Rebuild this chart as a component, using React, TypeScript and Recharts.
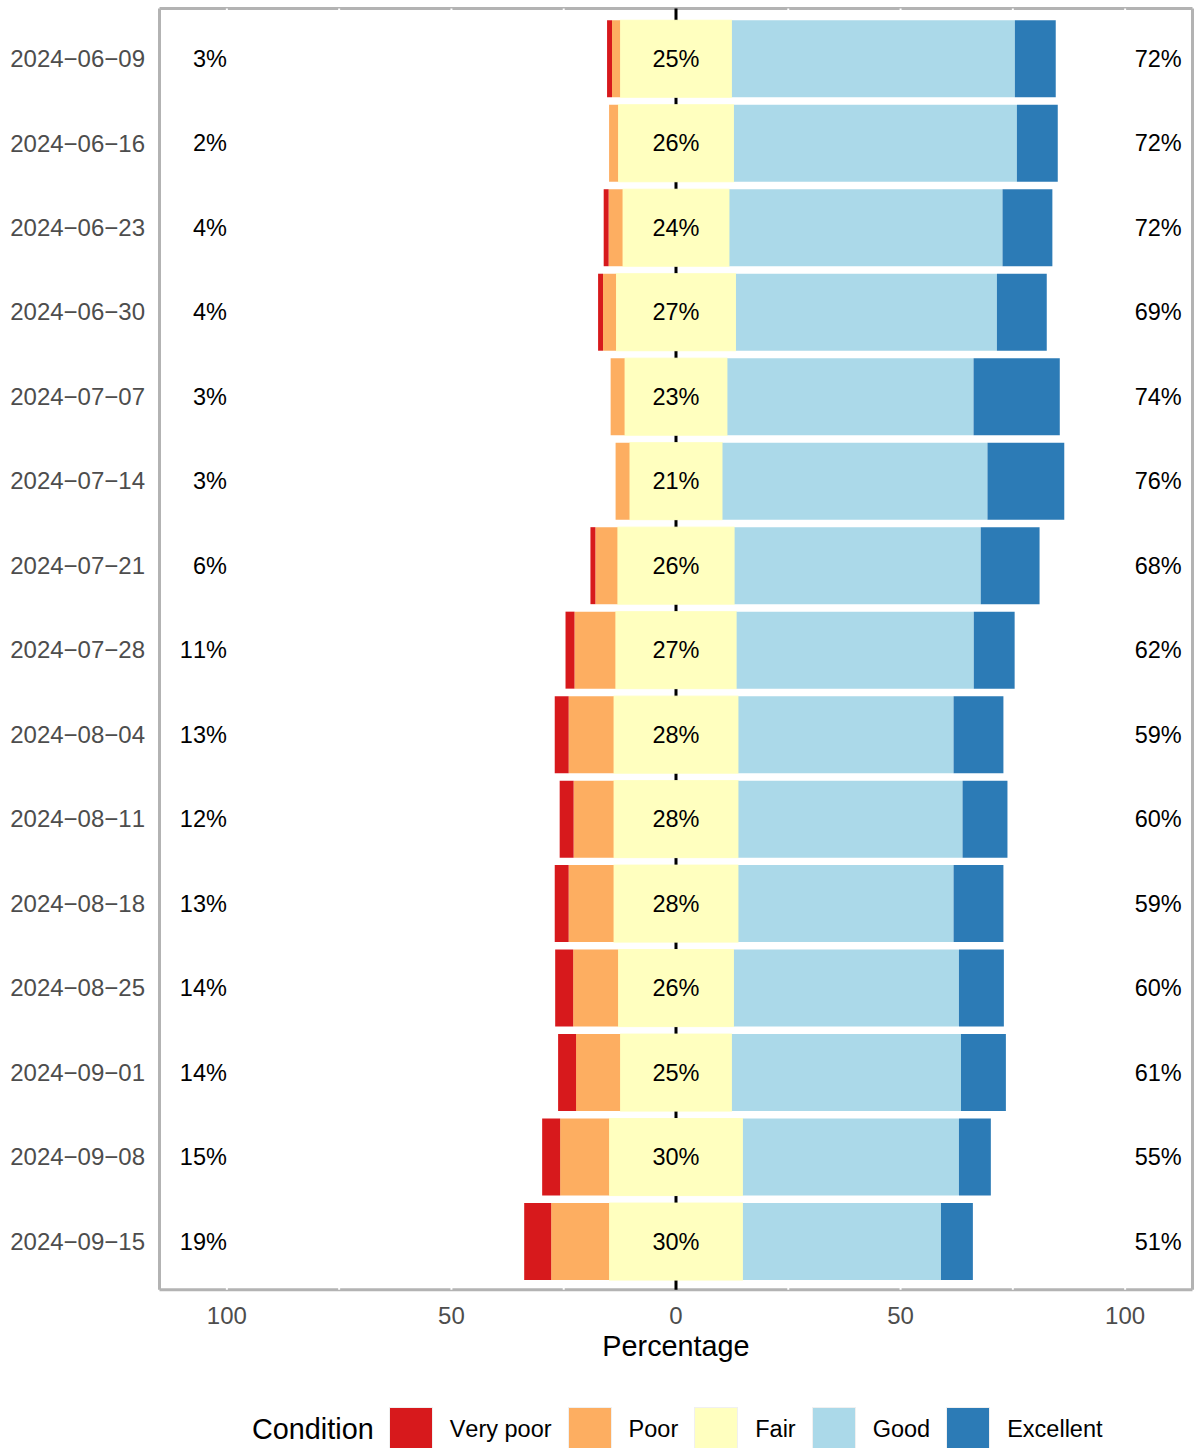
import React from 'react';
import { BarChart, Bar, XAxis, YAxis, CartesianGrid, ReferenceDot, Legend, Label } from 'recharts';

const FONT = "'Liberation Sans', Arial, Helvetica, sans-serif";

const dates = [
  '2024-06-09', '2024-06-16', '2024-06-23', '2024-06-30', '2024-07-07',
  '2024-07-14', '2024-07-21', '2024-07-28', '2024-08-04', '2024-08-11',
  '2024-08-18', '2024-08-25', '2024-09-01', '2024-09-08', '2024-09-15',
];
const veryPoor = [1.1, 0, 1.1, 1.1, 0, 0, 1.1, 2.0, 3.1, 3.1, 3.1, 4.0, 4.0, 4.0, 6.0];
const poor = [1.8, 2.0, 3.1, 2.9, 3.1, 3.1, 4.9, 9.1, 10.0, 8.9, 10.0, 10.0, 9.8, 10.9, 12.9];
const fair = [24.9, 25.8, 23.8, 26.7, 22.9, 20.7, 26.1, 27.0, 27.8, 27.8, 27.8, 25.8, 24.9, 29.8, 29.8];
const good = [63.0, 63.0, 60.8, 58.1, 54.8, 59.0, 54.8, 52.8, 47.9, 49.9, 47.9, 50.1, 51.0, 48.1, 44.1];
const excellent = [9.1, 9.1, 11.1, 11.1, 19.2, 17.1, 13.1, 9.1, 11.1, 10.0, 11.1, 10.0, 10.0, 7.1, 7.1];

const lowLabels = [3, 2, 4, 4, 3, 3, 6, 11, 13, 12, 13, 14, 14, 15, 19];
const fairLabels = [25, 26, 24, 27, 23, 21, 26, 27, 28, 28, 28, 26, 25, 30, 30];
const highLabels = [72, 72, 72, 69, 74, 76, 68, 62, 59, 60, 59, 60, 61, 55, 51];

const conditions = ['Very poor', 'Poor', 'Fair', 'Good', 'Excellent'];
const colors = ['#d7191c', '#fdae61', '#ffffbf', '#abd9e9', '#2c7bb6'];
const xTicks = [-100, -50, 0, 50, 100];
const gridTicks = [-100, -75, -50, -25, 25, 50, 75, 100];

const data = dates.map((d, i) => ({
  date: d,
  fairNeg: -fair[i] / 2,
  fairPos: fair[i] / 2,
  poorNeg: -poor[i],
  veryPoorNeg: -veryPoor[i],
  good: good[i],
  excellent: excellent[i],
}));

const makeText = (text: string, anchor: 'start' | 'middle' | 'end', dx: number) => (p: any) => (
  <text
    x={p.cx + dx}
    y={p.cy}
    dy="0.35em"
    textAnchor={anchor}
    fontSize={23.5}
    fontFamily={FONT}
    fill="#000"
  >
    {text}
  </text>
);

const renderLegend = () => (
  <div style={{ display: 'flex', alignItems: 'center', height: 44, fontFamily: FONT, color: '#000' }}>
    <span style={{ fontSize: 28.8, marginRight: 15, whiteSpace: 'nowrap' }}>Condition</span>
    {conditions.map((c, i) => (
      <React.Fragment key={c}>
        <span
          style={{
            display: 'inline-block',
            width: 44,
            height: 44,
            background: colors[i],
            marginRight: 17,
            boxSizing: 'border-box',
            border: '1px solid #f0f0f0',
          }}
        />
        <span style={{ fontSize: 23.5, marginRight: 16, whiteSpace: 'nowrap' }}>{c}</span>
      </React.Fragment>
    ))}
  </div>
);

const borderH = ({ offset }: any) => [offset.top, offset.top + offset.height];
const borderV = ({ offset }: any) => [offset.left, offset.left + offset.width];
const rowLines = ({ yAxis }: any) => {
  try {
    const s = yAxis && yAxis.scale;
    if (!s || typeof s.bandwidth !== 'function') return [];
    return dates.map((d) => s(d) + s.bandwidth() / 2);
  } catch (e) {
    return [];
  }
};

export default function App() {
  return (
    <div style={{ position: 'absolute', left: 0, top: 0, width: 1198, height: 1448, fontKerning: 'none' }}>
      <BarChart
        width={1198}
        height={1448}
        data={data}
        layout="vertical"
        stackOffset="sign"
        margin={{ top: 8.5, right: 5.5, left: 0, bottom: 0 }}
        style={{ fontFamily: FONT, fontKerning: 'none' }}
      >
        <CartesianGrid
          stroke="#b3b3b3"
          strokeWidth={3}
          horizontalCoordinatesGenerator={borderH}
          verticalCoordinatesGenerator={borderV}
        />
        <CartesianGrid stroke="#ffffff" strokeWidth={2} horizontal={false} verticalValues={gridTicks} />
        <CartesianGrid stroke="#ffffff" strokeWidth={2} vertical={false} horizontalCoordinatesGenerator={rowLines} />
        <CartesianGrid stroke="#000000" strokeWidth={3} horizontal={false} verticalValues={[0]} />
        <XAxis
          type="number"
          domain={[-115, 115]}
          allowDataOverflow
          ticks={xTicks}
          tickFormatter={(v: number) => String(Math.abs(v))}
          axisLine={false}
          tickLine={false}
          tickSize={6}
          tickMargin={11}
          tick={{ fill: '#4d4d4d', fontSize: 24, fontFamily: FONT }}
          height={114.3}
        >
          <Label
            value="Percentage"
            position="insideTop"
            offset={46}
            style={{ fill: '#000', fontSize: 28.8, fontFamily: FONT }}
          />
        </XAxis>
        <YAxis
          type="category"
          dataKey="date"
          width={159.5}
          interval={0}
          axisLine={false}
          tickLine={false}
          tickSize={6}
          tickMargin={8.5}
          padding={{ top: 7.75, bottom: 6.15 }}
          tickFormatter={(d: string) => d.replace(/-/g, '\u2212')}
          tick={{ fill: '#4d4d4d', fontSize: 24, fontFamily: FONT }}
        />
        <Bar dataKey="fairNeg" stackId="s" fill={colors[2]} stroke={colors[2]} strokeWidth={1} barSize={77} isAnimationActive={false} />
        <Bar dataKey="fairPos" stackId="s" fill={colors[2]} stroke={colors[2]} strokeWidth={1} barSize={77} isAnimationActive={false} />
        <Bar dataKey="poorNeg" stackId="s" fill={colors[1]} barSize={77} isAnimationActive={false} />
        <Bar dataKey="good" stackId="s" fill={colors[3]} barSize={77} isAnimationActive={false} />
        <Bar dataKey="veryPoorNeg" stackId="s" fill={colors[0]} barSize={77} isAnimationActive={false} />
        <Bar dataKey="excellent" stackId="s" fill={colors[4]} barSize={77} isAnimationActive={false} />
        {dates.map((d, i) => (
          <ReferenceDot key={'l' + d} x={-100} y={d} ifOverflow="visible" shape={makeText(lowLabels[i] + '%', 'end', 0)} />
        ))}
        {dates.map((d, i) => (
          <ReferenceDot key={'c' + d} x={0} y={d} ifOverflow="visible" shape={makeText(fairLabels[i] + '%', 'middle', 0)} />
        ))}
        {dates.map((d, i) => (
          <ReferenceDot key={'h' + d} x={100} y={d} ifOverflow="visible" shape={makeText(highLabels[i] + '%', 'start', 9.5)} />
        ))}
        <Legend
          verticalAlign="bottom"
          content={renderLegend}
          wrapperStyle={{ left: 252, top: 1407, bottom: 'auto', width: 900, height: 44 }}
        />
      </BarChart>
    </div>
  );
}
